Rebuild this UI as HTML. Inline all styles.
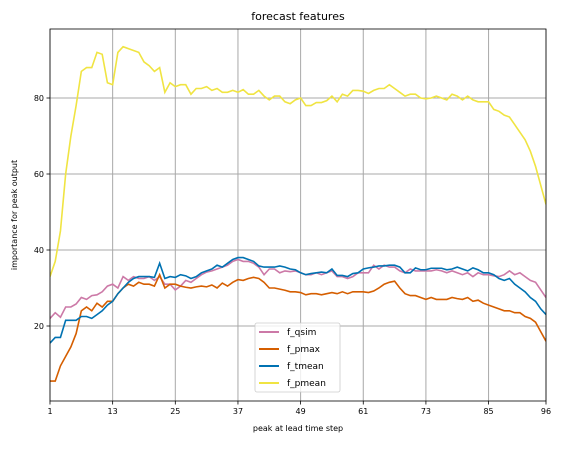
<!DOCTYPE html>
<html><head><meta charset="utf-8"><style>
body{margin:0;background:#fff;font-family:"Liberation Sans","DejaVu Sans",sans-serif}
svg text{font-family:"DejaVu Sans","Liberation Sans",sans-serif}
</style></head><body>
<svg id="chart" width="562" height="444" xmlns="http://www.w3.org/2000/svg"></svg>
<script>
const steps = Array.from({length:96},(_,i)=>i+1);
const xTicks = [1,13,25,37,49,61,73,85,96];
const yTicks = [20,40,60,80];
const qsim = [22,23.5,22.3,25,25,25.8,27.5,27,28,28.2,29,30.5,31,30,33,32,33,32.5,32.5,33,32,33,31,31,29.5,30.5,32,31.5,32.5,33.5,34.2,34.5,35,35.5,36,37,37.5,37,37,36.5,35.5,33.5,35,35,34,34.5,34.3,34.5,34,33.5,33.5,34,33.5,34,34.5,33,33,32.5,33,34,34,34,36,35,36,35.5,35.5,34.5,34,35,34.5,34.5,34.5,34.5,34.8,34.5,34,34.5,34,33.5,34,33,34,33.5,33.5,33.2,33,33.5,34.5,33.5,34,33,32,31.5,29.5,27.5];
const pmax = [5.5,5.5,9.5,12,14.5,18,24,25,24,26,25,26.5,26.5,28.5,30,31,30.5,31.5,31,31,30.5,33.5,30,31,31,30.5,30.2,30,30.3,30.5,30.3,30.8,30,31.3,30.5,31.5,32.2,32,32.5,32.8,32.5,31.5,30,30,29.7,29.4,29,29,28.8,28.2,28.5,28.5,28.2,28.5,28.8,28.5,29,28.5,29,29,29,28.8,29.2,30,31,31.5,31.8,30,28.5,28,28,27.5,27,27.5,27,27,27,27.5,27.2,27,27.5,26.5,26.8,26,25.5,25,24.5,24,24,23.5,23.5,22.5,22,21,18.5,16];
const tmean = [15.5,17,17,21.5,21.5,21.5,22.5,22.5,22,23,24,25.5,26.5,28.5,30,31.5,32.5,33,33,33,32.8,36.5,32.5,33,32.8,33.5,33.2,32.5,33,34,34.5,35,36,35.5,36.5,37.5,38,38,37.5,37,35.8,35.5,35.5,35.5,35.8,35.5,35,34.8,34,33.5,33.8,34,34.2,34,35,33.3,33.3,33,33.8,34,35,35.3,35.5,35.8,35.8,36,36,35.5,34,34,35.3,34.8,34.8,35.2,35.2,35.2,34.8,35,35.5,35,34.5,35.3,34.8,34,34,33.5,32.5,32,32.5,31,30,29,27.5,26.5,24.5,23];
const pmean = [33,37,45,60,70,78,87,88,88,92,91.5,84,83.5,92,93.5,93,92.5,92,89.5,88.5,87,88,81.5,84,83,83.5,83.5,81,82.5,82.5,83,82,82.5,81.5,81.5,82,81.5,82.2,81,81,82,80.5,79.5,80.5,80.5,79,78.5,79.5,80,78,78,78.8,78.8,79.3,80.5,79,81,80.5,82,82,81.8,81.2,82,82.5,82.5,83.5,82.5,81.5,80.5,81,81,80,79.8,80,80.5,80,79.5,81,80.5,79.5,80.5,79.5,79,79,79,77,76.5,75.5,75,73,71,69,66,62,57,52];
const seriesNames = ["f_qsim","f_pmax","f_tmean","f_pmean"];
const seriesColors = ["#cc79a7","#d55e00","#0072b2","#f0e442"];
const seriesData = [qsim,pmax,tmean,pmean];

const L=50,R=546,T=29,B=401;
const X=v=>L+(v-1)*(R-L)/95;
const Y=v=>402-v*3.8;
const NS="http://www.w3.org/2000/svg";
const svg=document.getElementById('chart');
function mk(tag,attrs,parent){const e=document.createElementNS(NS,tag);for(const k in attrs)e.setAttribute(k,attrs[k]);(parent||svg).appendChild(e);return e;}
xTicks.forEach(t=>{
  const g=mk('line',{x1:X(t),x2:X(t),y1:T,y2:B,stroke:'#a8a8a8','stroke-width':1});
  
  
  const tk=mk('line',{x1:X(t),x2:X(t),y1:B,y2:B+3.5,stroke:'#000','stroke-width':0.8});
  
  
  const tx=mk('text',{x:X(t),y:B+13,'font-size':8,'text-anchor':'middle'});
  tx.textContent=t;
  
  
});
yTicks.forEach(t=>{
  const g=mk('line',{x1:L,x2:R,y1:Y(t),y2:Y(t),stroke:'#a8a8a8','stroke-width':1});
  
  
  const tk=mk('line',{x1:L-3.5,x2:L,y1:Y(t),y2:Y(t),stroke:'#000','stroke-width':0.8});
  
  
  const tx=mk('text',{x:L-6,y:Y(t)+3,'font-size':8,'text-anchor':'end'});
  tx.textContent=t;
  
  
});
const clip=mk('clipPath',{id:'pc'});mk('rect',{x:L,y:T,width:R-L,height:B-T},clip);
seriesData.forEach((d,i)=>{
  const p=mk('polyline',{points:d.map((v,j)=>X(steps[j])+','+Y(v)).join(' '),fill:'none',stroke:seriesColors[i],'stroke-width':1.6,'clip-path':'url(#pc)'});
  
  
});
const fr=mk('rect',{x:L,y:T,width:R-L,height:B-T,fill:'none',stroke:'#000','stroke-width':0.8});


const ti=mk('text',{x:298,y:20,'font-size':11,'text-anchor':'middle'});ti.textContent='forecast features';


const xl=mk('text',{x:298,y:431,'font-size':8,'text-anchor':'middle'});xl.textContent='peak at lead time step';


const yl=mk('text',{x:0,y:0,'font-size':8,'text-anchor':'middle',transform:'translate(17,215) rotate(-90)'});yl.textContent='importance for peak output';


const lg=mk('g',{});


mk('rect',{x:255,y:323,width:85,height:69,rx:2,fill:'#fff','fill-opacity':0.8,stroke:'#ccc','stroke-width':0.8},lg);
seriesNames.forEach((n,i)=>{
  const yy=332+i*17;
  const e=mk('g',{},lg);
  
  
  mk('line',{x1:259,x2:279,y1:yy,y2:yy,stroke:seriesColors[i],'stroke-width':2},e);
  const t=mk('text',{x:287,y:yy+3,'font-size':9},e);t.textContent=n;
});
</script>
</body></html>
